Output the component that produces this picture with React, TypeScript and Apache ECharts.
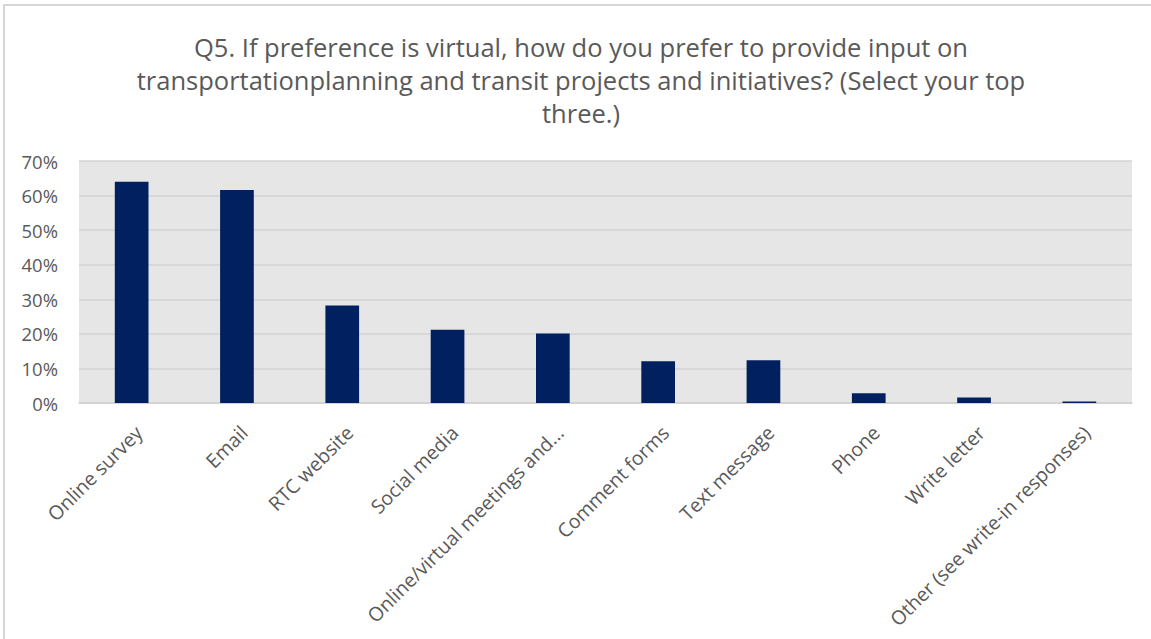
import React, { useEffect, useRef } from "react";
import * as echarts from "echarts";

const titleLines = [
  "Q5. If preference is virtual, how do you prefer to provide input on",
  "transportationplanning and transit projects and initiatives? (Select your top",
  "three.)",
];

const categories = [
  "Online survey",
  "Email",
  "RTC website",
  "Social media",
  "Online/virtual meetings and...",
  "Comment forms",
  "Text message",
  "Phone",
  "Write letter",
  "Other (see write-in responses)",
];

const values = [64.0, 61.6, 28.2, 21.2, 20.1, 12.1, 12.4, 2.8, 1.6, 0.4];

const yTicks = [0, 10, 20, 30, 40, 50, 60, 70];

const FONT = "'Open Sans', Lato, sans-serif";

export default function App() {
  const ref = useRef<HTMLDivElement>(null);

  useEffect(() => {
    if (!ref.current) return;
    const chart = echarts.init(ref.current, undefined, { renderer: "svg" });
    chart.setOption({
      animation: false,
      backgroundColor: "#ffffff",
      graphic: [
        {
          type: "rect",
          shape: { x: 4, y: 5, width: 1200, height: 700 },
          style: { fill: "none", stroke: "#d6d6d6", lineWidth: 2 },
          silent: true,
        },
        ...titleLines.map((t, i) => ({
          type: "text",
          x: 581,
          y: 47 + i * 33,
          style: {
            text: t,
            fill: "#595959",
            font: `25.5px ${FONT}`,
            textAlign: "center",
            textVerticalAlign: "middle",
          },
        })),
      ],
      grid: {
        left: 79,
        right: 19,
        top: 161,
        bottom: 236,
        show: true,
        backgroundColor: "#e6e6e6",
        borderWidth: 0,
      },
      xAxis: {
        type: "category",
        data: categories,
        axisTick: { show: false },
        axisLine: { show: true, lineStyle: { color: "#cfcfcf", width: 1.5 } },
        axisLabel: {
          rotate: 45,
          interval: 0,
          margin: 19,
          align: "right",
          verticalAlign: "top",
          color: "#595959",
          fontSize: 19.5,
          fontFamily: FONT,
        },
      },
      yAxis: {
        type: "value",
        min: yTicks[0],
        max: yTicks[yTicks.length - 1],
        interval: 10,
        axisLine: { show: false },
        axisTick: { show: false },
        axisLabel: {
          formatter: "{value}%",
          color: "#595959",
          fontSize: 18.5,
          fontFamily: FONT,
          margin: 21,
        },
        splitLine: { lineStyle: { color: "#d3d3d3", width: 1.5 } },
      },
      series: [
        {
          type: "bar",
          data: values,
          barWidth: "32%",
          itemStyle: { color: "#002060" },
        },
      ],
    });
    return () => chart.dispose();
  }, []);

  return (
    <div
      ref={ref}
      style={{ position: "fixed", left: 0, top: 0, width: 1151, height: 639 }}
    />
  );
}
